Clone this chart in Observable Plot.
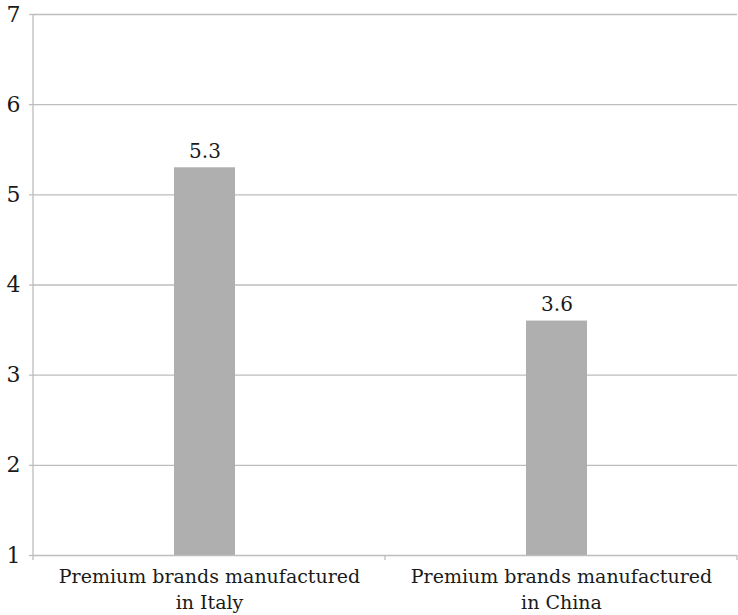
<!DOCTYPE html>
<html>
<head>
<meta charset="utf-8">
<script src="https://cdn.jsdelivr.net/npm/d3@7"></script>
<script src="https://cdn.jsdelivr.net/npm/@observablehq/plot@0.6"></script>
<style>
  html, body { margin: 0; padding: 0; background: #ffffff; }
  #chart { width: 738px; height: 615px; }
</style>
</head>
<body>
<div id="chart"></div>
<script>
// Categories and their values
const categories = ["Premium brands manufactured in Italy", "Premium brands manufactured in China"];
const categoryLines = ["Premium brands manufactured\nin Italy", "Premium brands manufactured\nin China"];
const values = [5.3, 3.6];
const valueLabels = ["5.3", "3.6"];
const yTicks = [1, 2, 3, 4, 5, 6, 7];

const data = categories.map((c, i) => ({category: c, value: values[i], label: valueLabels[i]}));

const serif = "DejaVu Serif";
const gridColor = "#bdbdbd";
const barColor = "#afafaf";
const textColor = "#1a1a1a";

const plot = Plot.plot({
  width: 738,
  height: 615,
  marginLeft: 33,
  marginRight: 1,
  marginTop: 14,
  marginBottom: 60,
  style: {color: textColor, background: "#ffffff"},
  x: {domain: categories, padding: 0},
  y: {domain: [1, 7]},
  marks: [
    Plot.gridY(yTicks.slice(1), {stroke: gridColor, strokeOpacity: 1, strokeWidth: 1.3}),
    Plot.axisY(yTicks, {
      tickSize: 4, tickPadding: 9, stroke: gridColor, strokeWidth: 1.3,
      tickFormat: "d", fontSize: 22, fontFamily: serif, fill: textColor, label: null
    }),
    Plot.barY(data, {
      x: "category", y1: 1, y2: "value", fill: barColor,
      insetLeft: 141, insetRight: 150
    }),
    Plot.text(data, {
      x: "category", y: "value", text: "label", fontFamily: serif,
      dx: -4.5, dy: -10, lineAnchor: "bottom", fontSize: 20, fill: textColor
    }),
    Plot.ruleY([1], {stroke: gridColor, strokeWidth: 1.3}),
    Plot.axisX({
      tickSize: 0, tickPadding: 9, fontSize: 19, fontFamily: serif, fill: textColor, label: null,
      tickFormat: (d) => categoryLines[categories.indexOf(d)], lineHeight: 1.38
    })
  ]
});

// Axis line on the left and the category separator ticks below the baseline
const xs = plot.scale("x");
const ys = plot.scale("y");
const svg = d3.select(plot);
const x0 = xs.range[0];
const bounds = [x0, ...categories.map((c) => xs.apply(c) + xs.bandwidth)];
const yBase = ys.apply(yTicks[0]);
const yTop = ys.apply(yTicks[yTicks.length - 1]);
svg.append("line")
  .attr("x1", x0).attr("x2", x0).attr("y1", yTop).attr("y2", yBase)
  .attr("stroke", gridColor).attr("stroke-width", 1.3);
svg.append("g").selectAll("line").data(bounds).join("line")
  .attr("x1", (d) => d).attr("x2", (d) => d)
  .attr("y1", yBase).attr("y2", yBase + 5)
  .attr("stroke", gridColor).attr("stroke-width", 1.3);

document.getElementById("chart").append(plot);
</script>
</body>
</html>
